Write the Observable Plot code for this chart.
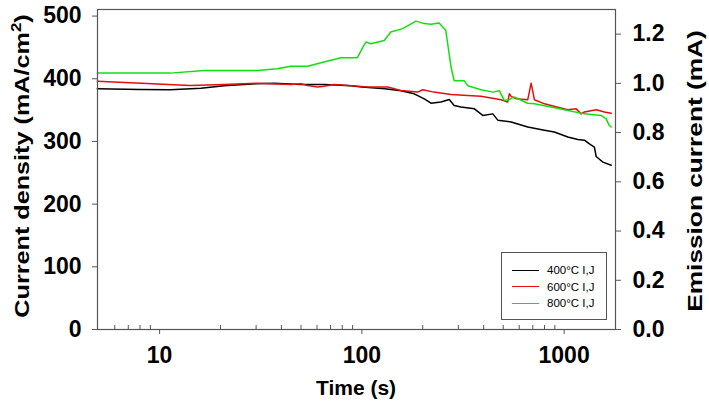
<!DOCTYPE html>
<html>
<head>
<meta charset="utf-8">
<script src="https://cdn.jsdelivr.net/npm/d3@7"></script>
<script src="https://cdn.jsdelivr.net/npm/@observablehq/plot@0.6"></script>
<style>
  html, body { margin: 0; padding: 0; background: #fff; }
  #wrap { position: relative; width: 709px; height: 411px; font-family: "Liberation Sans", Arial, sans-serif; }
  #wrap svg { position: absolute; left: 0; top: 0; }
  .title { position: absolute; font-weight: bold; font-size: 21px; color: #000; white-space: nowrap; }
  .legend { position: absolute; left: 501px; top: 252px; width: 106px; height: 68px; border: 1px solid #555; background: #fff; box-sizing: border-box; font-size: 11.5px; }
  .legend .row { position: absolute; left: 10px; height: 14px; display: flex; align-items: center; }
  .legend .sw { width: 27px; height: 0; border-top: 1.5px solid; margin-right: 8px; }
</style>
</head>
<body>
<div id="wrap"></div>
<script>
// ---- data ----
const seriesNames = ["400°C I,J", "600°C I,J", "800°C I,J"];
const seriesColors = ["#000000", "#e01010", "#10e010"];

const time400 = [4.92, 8, 11.3, 16, 20.8, 30, 36.8, 50, 65, 88, 100, 130, 156, 181.5, 203.5, 219.6, 246, 270.5, 286, 309, 360, 396, 444, 470, 547, 661, 799, 895, 1043, 1169, 1260, 1334, 1412, 1440, 1555, 1709];
const cur400  = [384, 383, 382.6, 385, 389, 392, 393, 391, 391, 389, 387, 384, 381, 376, 368, 361, 363, 367, 357.5, 355, 352, 341.5, 344, 334, 331, 323, 318, 315, 307, 303, 302, 296, 291, 276, 267, 262];

const time600 = [4.92, 14.2, 20.8, 30.5, 44.5, 50, 53.8, 60.4, 65, 72.7, 80, 107, 134, 156, 188.7, 200, 227, 276, 334, 388, 488, 526, 536, 547, 580, 661, 687, 713, 800, 862, 1043, 1147, 1214, 1260, 1440, 1583, 1709];
const cur600  = [396, 389.4, 391, 393, 391, 392, 389.4, 387, 388, 391, 390, 387, 387, 381.4, 378.7, 382.5, 378.7, 375, 373.5, 372, 366.6, 362.8, 376, 372, 368, 366.6, 393, 366.6, 360, 357.5, 350.6, 352, 344, 347, 350.6, 347, 345];

const time800 = [4.92, 11.3, 16.6, 30.5, 38, 44.5, 53.8, 65, 78.7, 95, 101, 104.7, 110.8, 129, 139, 159, 185, 203.5, 219.6, 241, 260, 276, 286, 320, 334, 388, 444, 478, 506, 536, 566, 661, 713, 862, 1043, 1260, 1525, 1614, 1671, 1709];
const cur800  = [409, 409, 413, 413, 416, 420, 420, 426.6, 433.6, 433.6, 450, 458.6, 456, 461, 474.5, 480, 492, 488, 487, 489, 477, 418.6, 397, 397, 389, 382.5, 378.7, 381, 365.5, 366.6, 371, 361, 360, 355, 349.5, 344, 341.5, 336, 325.6, 323];

const xMajorTicks = [10, 100, 1000];
const xMinorTicks = [6, 7, 8, 9, 20, 30, 40, 50, 60, 70, 80, 90, 200, 300, 400, 500, 600, 700, 800, 900];
const yLeftTicks = [0, 100, 200, 300, 400, 500];
const yRightTicks = [0, 0.2, 0.4, 0.6, 0.8, 1.0, 1.2];
const xDomain = [4.93, 1795];
const yLeftDomain = [0, 510.5];
const yRightMax = 1.3;
const ratio = yLeftDomain[1] / yRightMax; // mA/cm² per mA

const font = {fontSize: 23, fontWeight: "bold", fontFamily: "Liberation Sans, Arial, sans-serif"};

const chart = Plot.plot({
  width: 709,
  height: 411,
  marginLeft: 97,
  marginRight: 94,
  marginTop: 9,
  marginBottom: 82,
  style: {background: "transparent", fontFamily: "Liberation Sans, Arial, sans-serif", color: "#000"},
  x: {type: "log", domain: xDomain},
  y: {domain: yLeftDomain},
  marks: [
    Plot.axisY({ticks: yLeftTicks, tickSize: 5, tickPadding: 11, label: null, stroke: "#555", ...font}),
    Plot.axisY({anchor: "right", ticks: yRightTicks.map(v => v * ratio), tickFormat: d => (d / ratio).toFixed(1), tickSize: 5, tickPadding: 12, label: null, stroke: "#555", ...font}),
    Plot.axisX({ticks: xMajorTicks, tickFormat: d => String(d), tickSize: 5, tickPadding: 12, label: null, stroke: "#555", ...font}),
    Plot.axisX({ticks: xMinorTicks, tickSize: -4, text: null, label: null, stroke: "#555"}),
    Plot.line(cur400, {x: time400, y: cur400, stroke: seriesColors[0], strokeWidth: 1.5}),
    Plot.line(cur600, {x: time600, y: cur600, stroke: seriesColors[1], strokeWidth: 1.5}),
    Plot.line(cur800, {x: time800, y: cur800, stroke: seriesColors[2], strokeWidth: 1.5}),
    Plot.frame({stroke: "#555", strokeWidth: 1.2})
  ]
});

const wrap = document.getElementById("wrap");
wrap.appendChild(chart);

// axis titles
const lt = document.createElement("div");
lt.className = "title";
lt.innerHTML = "Current density (mA/cm<sup style='font-size:14px'>2</sup>)";
lt.style.left = "21px"; lt.style.top = "166px";
lt.style.transform = "translate(-50%, -50%) rotate(-90deg) scaleX(1.2)";
wrap.appendChild(lt);

const rt = document.createElement("div");
rt.className = "title";
rt.textContent = "Emission current (mA)";
rt.style.left = "695px"; rt.style.top = "171px";
rt.style.transform = "translate(-50%, -50%) rotate(-90deg) scaleX(1.25)";
wrap.appendChild(rt);

const xt = document.createElement("div");
xt.className = "title";
xt.textContent = "Time (s)";
xt.style.left = "356px"; xt.style.top = "388px";
xt.style.transform = "translate(-50%, -50%)";
wrap.appendChild(xt);

// legend
const lg = document.createElement("div");
lg.className = "legend";
seriesNames.forEach((n, i) => {
  const r = document.createElement("div");
  r.className = "row";
  r.style.top = (10 + i * 16.7) + "px";
  const sw = document.createElement("span");
  sw.className = "sw";
  sw.style.borderTopColor = seriesColors[i];
  const tx = document.createElement("span");
  tx.textContent = n;
  r.appendChild(sw); r.appendChild(tx);
  lg.appendChild(r);
});
wrap.appendChild(lg);
</script>
</body>
</html>
